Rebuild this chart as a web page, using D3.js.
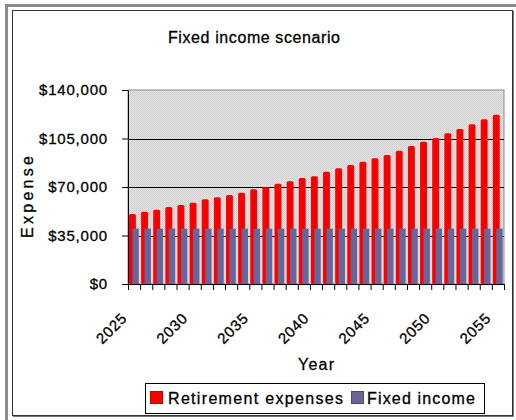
<!DOCTYPE html>
<html>
<head>
<meta charset="utf-8">
<script src="https://cdn.jsdelivr.net/npm/d3@7"></script>
<style>
  body { margin: 0; background: #fff; }
  svg { display: block; }
  text { font-family: Arial, "Liberation Sans", sans-serif; fill: #000; }
</style>
</head>
<body>
<script>
// chart data
const years = [2025, 2026, 2027, 2028, 2029, 2030, 2031, 2032, 2033, 2034,
  2035, 2036, 2037, 2038, 2039, 2040, 2041, 2042, 2043, 2044, 2045, 2046,
  2047, 2048, 2049, 2050, 2051, 2052, 2053, 2054, 2055];
const retirementExpenses = [50500, 52200, 53600, 55600, 57000, 58700, 61100,
  62600, 64200, 65900, 68300, 69800, 72400, 74100, 76500, 77700, 81000,
  83500, 85900, 88300, 90700, 93100, 96200, 99600, 102700, 105400, 108700,
  111800, 115200, 118900, 122200];
const fixedIncome = [40000, 40000, 40000, 40000, 40000, 40000, 40000, 40000,
  40000, 40000, 40000, 40000, 40000, 40000, 40000, 40000, 40000, 40000,
  40000, 40000, 40000, 40000, 40000, 40000, 40000, 40000, 40000, 40000,
  40000, 40000, 40000];
const yTicks = [0, 35000, 70000, 105000, 140000];
const xLabelYears = [2025, 2030, 2035, 2040, 2045, 2050, 2055];
const seriesNames = ["Retirement expenses", "Fixed income"];
const seriesColors = ["#ff0000", "#666699"];

const width = 516;
const height = 420;
const plot = { left: 128, right: 504, top: 90, bottom: 284 };

const svg = d3.select("body").append("svg")
  .attr("width", width)
  .attr("height", height);

// dotted grey fill of the plot area
const defs = svg.append("defs");
const pat = defs.append("pattern")
  .attr("id", "dots")
  .attr("width", 2)
  .attr("height", 2)
  .attr("patternUnits", "userSpaceOnUse");
pat.append("rect").attr("width", 2).attr("height", 2).attr("fill", "#e2e2e2");
pat.append("rect").attr("width", 1).attr("height", 1).attr("fill", "#cfcfcf");
pat.append("rect").attr("x", 1).attr("y", 1).attr("width", 1).attr("height", 1).attr("fill", "#d4d4d4");

// outer frame and chart frame
svg.append("rect")
  .attr("x", 6.5).attr("y", 5.5)
  .attr("width", 520).attr("height", 430)
  .attr("fill", "none")
  .attr("stroke", "#8a8a8a")
  .attr("stroke-width", 3);
svg.append("rect")
  .attr("x", 12.5).attr("y", 10.5)
  .attr("width", 500).attr("height", 405)
  .attr("fill", "#fff")
  .attr("stroke", "#333")
  .attr("stroke-width", 1);
svg.append("path")
  .attr("d", "M513.5,11 V416.5 H13")
  .attr("fill", "none")
  .attr("stroke", "#777")
  .attr("stroke-width", 1);

// title
svg.append("text")
  .attr("x", 254)
  .attr("y", 43)
  .attr("text-anchor", "middle")
  .attr("textLength", 172)
  .style("font-size", "16px")
  .style("stroke", "#000")
  .style("stroke-width", 0.3)
  .text("Fixed income scenario");

const xScale = d3.scaleBand()
  .domain(years)
  .range([plot.left, plot.right])
  .paddingInner(0)
  .paddingOuter(0);

const yScale = d3.scaleLinear()
  .domain([0, 140000])
  .range([plot.bottom, plot.top]);

// plot background
svg.append("rect")
  .attr("x", plot.left)
  .attr("y", plot.top)
  .attr("width", plot.right - plot.left)
  .attr("height", plot.bottom - plot.top)
  .attr("fill", "url(#dots)")
  .attr("stroke", "#8a8a8a")
  .attr("stroke-width", 1);

// gridlines
svg.append("g")
  .selectAll("line")
  .data(yTicks.filter(function (t) { return t > 0 && t < 140000; }))
  .enter()
  .append("line")
  .attr("x1", plot.left)
  .attr("x2", plot.right)
  .attr("y1", function (d) { return Math.round(yScale(d)) + 0.5; })
  .attr("y2", function (d) { return Math.round(yScale(d)) + 0.5; })
  .attr("stroke", "#000")
  .attr("stroke-width", 1);

const bw = xScale.bandwidth();

// red bars
const redBars = svg.append("g");
redBars.selectAll("rect")
  .data(years)
  .enter()
  .append("rect")
  .attr("x", function (d) { return xScale(d) + bw * 0.08; })
  .attr("y", function (d, i) { return yScale(retirementExpenses[i]); })
  .attr("width", bw * 0.57)
  .attr("height", function (d, i) { return yScale(0) - yScale(retirementExpenses[i]); })
  .attr("rx", 1.5)
  .attr("fill", seriesColors[0]);
// darker stripe inside each red bar
redBars.selectAll("line")
  .data(years)
  .enter()
  .append("line")
  .attr("x1", function (d) { return xScale(d) + bw * 0.42; })
  .attr("x2", function (d) { return xScale(d) + bw * 0.42; })
  .attr("y1", function (d, i) { return yScale(retirementExpenses[i]) + 3; })
  .attr("y2", yScale(0))
  .attr("stroke", "#b80000")
  .attr("stroke-opacity", 0.6)
  .attr("stroke-width", 1);

// blue bars
svg.append("g")
  .selectAll("rect")
  .data(years)
  .enter()
  .append("rect")
  .attr("x", function (d) { return xScale(d) + bw * 0.36; })
  .attr("y", function (d, i) { return yScale(fixedIncome[i]); })
  .attr("width", bw * 0.53)
  .attr("height", function (d, i) { return yScale(0) - yScale(fixedIncome[i]); })
  .attr("fill", seriesColors[1]);

// y axis
const yAxis = d3.axisLeft(yScale)
  .tickValues(yTicks)
  .tickFormat(function (d) { return "$" + d3.format(",")(d); })
  .tickSize(6)
  .tickSizeOuter(0)
  .tickPadding(14);
const gy = svg.append("g")
  .attr("transform", "translate(" + plot.left + ",0)")
  .call(yAxis);
gy.selectAll("text")
  .style("font-size", "15px")
  .style("font-family", "Arial, 'Liberation Sans', sans-serif")
  .style("letter-spacing", "0.8px")
  .style("stroke", "#000")
  .style("stroke-width", 0.3);
gy.select(".domain").attr("stroke", "#000");

// x axis: ticks between categories
const edgeScale = d3.scaleLinear()
  .domain([0, years.length])
  .range([plot.left, plot.right]);
const edgeIdx = years.map(function (d, i) { return i; }).concat([years.length]);
svg.append("g")
  .attr("transform", "translate(0," + plot.bottom + ")")
  .call(d3.axisBottom(edgeScale).tickValues(edgeIdx).tickFormat("").tickSize(6).tickSizeOuter(0));

// x axis labels, rotated
const gx = svg.append("g")
  .attr("transform", "translate(0," + plot.bottom + ")")
  .call(d3.axisBottom(xScale).tickValues(xLabelYears).tickSize(0));
gx.select(".domain").remove();
gx.selectAll("text")
  .style("font-size", "15px")
  .style("font-family", "Arial, 'Liberation Sans', sans-serif")
  .style("letter-spacing", "0.8px")
  .style("stroke", "#000")
  .style("stroke-width", 0.3)
  .attr("text-anchor", "end")
  .attr("x", 0)
  .attr("y", 0)
  .attr("dy", 0)
  .attr("transform", "translate(-6,35) rotate(-45)");

// axis titles
svg.append("text")
  .attr("x", 316)
  .attr("y", 370)
  .attr("text-anchor", "middle")
  .attr("textLength", 36)
  .style("font-size", "16px")
  .style("stroke", "#000")
  .style("stroke-width", 0.3)
  .text("Year");
svg.append("text")
  .attr("transform", "translate(33,197) rotate(-90)")
  .attr("text-anchor", "middle")
  .attr("textLength", 82)
  .style("font-size", "16px")
  .style("stroke", "#000")
  .style("stroke-width", 0.3)
  .text("Expense");

// legend
const legend = svg.append("g");
legend.append("rect")
  .attr("x", 145.5).attr("y", 383.5)
  .attr("width", 339).attr("height", 30)
  .attr("fill", "#fff")
  .attr("stroke", "#000");
const legendX = [150, 351];
const legendTextX = [168, 367];
const legendTextLen = [175, 108];
seriesNames.forEach(function (name, i) {
  legend.append("rect")
    .attr("x", legendX[i] + 0.5).attr("y", 391.5)
    .attr("width", 12).attr("height", 12)
    .attr("fill", seriesColors[i])
    .attr("stroke", i === 0 ? "#c00000" : "#4a4a70");
  legend.append("text")
    .attr("x", legendTextX[i])
    .attr("y", 404)
    .attr("textLength", legendTextLen[i])
    .style("font-size", "16px")
    .style("stroke", "#000")
    .style("stroke-width", 0.3)
    .text(name);
});
</script>
</body>
</html>
